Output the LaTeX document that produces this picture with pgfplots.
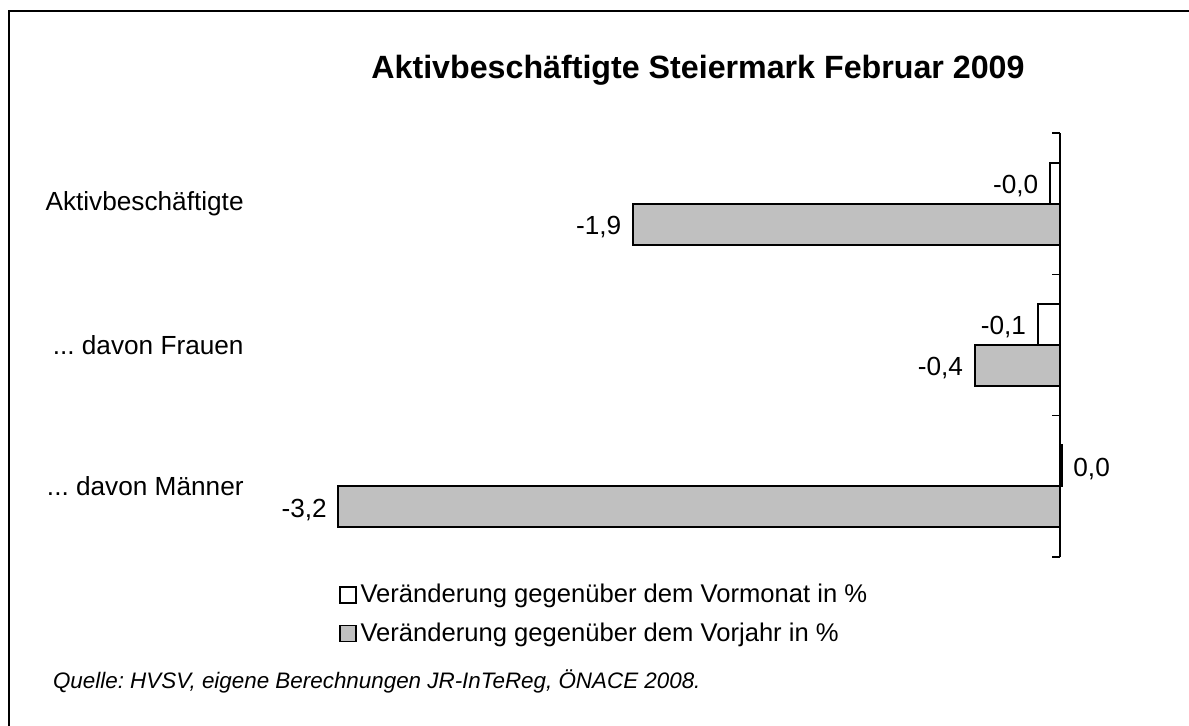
\documentclass[border=0pt]{standalone}
\usepackage{fontspec}
\setmainfont{Liberation Sans}
\usepackage{pgfplots}
\usepackage{pgfplotstable}
\pgfplotsset{compat=1.18}
\definecolor{barGray}{HTML}{C0C0C0}
\newcommand\dd{.\kern0pt.\kern0pt.}
\pgfplotstableread{
y vm vmlab vj vjlab
3 -0.045 -0,0 -1.90 -1,9
2 -0.10 -0,1 -0.38 -0,4
1 0.008 0,0 -3.21 -3,2
}\datatable
\begin{document}
\frenchspacing
\begin{tikzpicture}
\useasboundingbox (0,0) rectangle (594.5pt,-363pt);
\draw[line width=1pt] (4.5pt,-363pt) -- (4.5pt,-5.5pt) -- (594.5pt,-5.5pt);
\node[font=\bfseries\fontsize{16.1}{19}\selectfont] at (349pt,-35pt) {Aktivbeschäftigte Steiermark Februar 2009};
\begin{axis}[
  at={(530pt,-278.5pt)}, anchor=south east,
  scale only axis, width=403.5pt, height=212pt,
  xmin=-3.59, xmax=0, ymin=0.5, ymax=3.5,
  clip=false,
  xbar, bar width=20.5pt,
  axis x line=none,
  axis y line=right,
  ytick={1,2,3},
  yticklabels={{\dd{} davon Männer},{\dd{} davon Frauen},{Aktivbeschäftigte}},
  major tick length=0pt,
  minor ytick={0.5,1.5,2.5,3.5},
  minor tick length=4pt,
  tick align=inside,
  tick style={black, line width=0.6pt},
  axis line style={black, line width=0.6pt, -},
  yticklabel style={font=\fontsize{13.1}{15}\selectfont, anchor=east, inner sep=0pt, xshift=-408pt},
  nodes near coords,
  point meta=explicit symbolic,
  visualization depends on={rawx \as \xv},
  nodes near coords style={font=\fontsize{13.1}{15}\selectfont, inner xsep=5.3pt, inner ysep=4pt,
    yshift=-1.5pt, anchor={\ifdim\xv pt<0pt east\else west\fi}},
  legend style={at={(0.106,-0.054)}, anchor=north west, draw=none, fill=none,
    font=\fontsize{12.8}{15}\selectfont, row sep=4.5pt, inner sep=0pt,
    legend cell align=left,
    /tikz/every even column/.append style={column sep=0pt}},
  legend image code/.code={\draw[#1, line width=0.8pt] (0pt,-4pt) rectangle (8pt,4pt);},
]
\addplot[draw=black, fill=white, line width=1pt, bar shift=10.25pt]
  table[x=vm, y=y, meta=vmlab] {\datatable};
\addlegendentry{Veränderung gegenüber dem Vormonat in \%}
\addplot[draw=black, fill=barGray, line width=1pt, bar shift=-10.25pt]
  table[x=vj, y=y, meta=vjlab] {\datatable};
\addlegendentry{Veränderung gegenüber dem Vorjahr in \%}
\end{axis}
\node[anchor=west, font=\itshape\fontsize{11.2}{13}\selectfont] at (23pt,-340.5pt) {Quelle: HVSV, eigene Berechnungen JR-InTeReg, ÖNACE 2008.};
\end{tikzpicture}
\end{document}
